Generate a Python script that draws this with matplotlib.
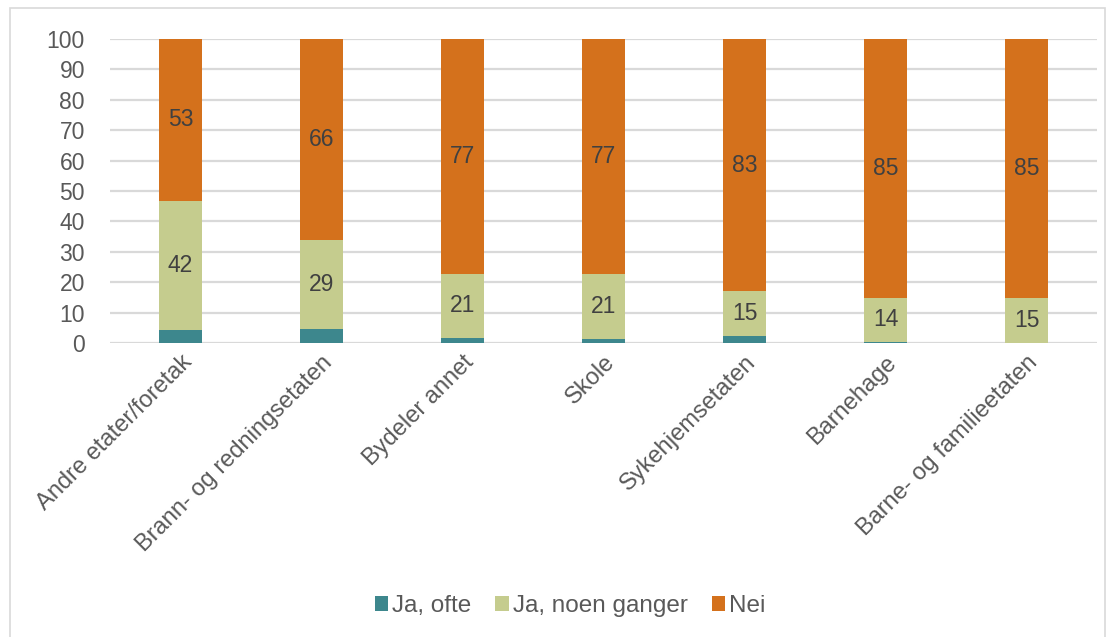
import matplotlib.pyplot as plt
import numpy as np
from matplotlib.patches import Rectangle

categories = ["Andre etater/foretak", "Brann- og redningsetaten", "Bydeler annet",
              "Skole", "Sykehjemsetaten", "Barnehage", "Barne- og familieetaten"]
ja_ofte = [4.4, 4.6, 1.8, 1.3, 2.4, 0.4, 0.1]
ja_noen = [42.4, 29.4, 21.0, 21.3, 14.7, 14.4, 14.7]
nei = [53.2, 66.0, 77.2, 77.4, 82.9, 85.2, 85.2]
series_names = ["Ja, ofte", "Ja, noen ganger", "Nei"]
colors = ["#3D878D", "#C5CC8E", "#D4711C"]

plt.rcParams["font.family"] = ["Liberation Sans", "DejaVu Sans"]

fig = plt.figure(figsize=(11.11, 6.37), dpi=100)
ax = fig.add_axes([110 / 1111, 1 - 343 / 637, 987 / 1111, 304 / 637])

x = np.arange(len(categories))
width = 0.31
bottom = np.zeros(len(categories))
for vals, name, col in zip([ja_ofte, ja_noen, nei], series_names, colors):
    ax.bar(x, vals, width, bottom=bottom, color=col, label=name, zorder=3)
    if name != "Ja, ofte":
        for xi, b, v in zip(x, bottom, vals):
            ax.text(xi, b + v / 2, f"{v:.0f}", ha="center", va="center",
                    fontsize=16.5, color="#404040", zorder=4)
    bottom += np.array(vals)

ax.set_xlim(-0.5, len(categories) - 0.5)
ax.set_ylim(0, 100)
ax.set_yticks(range(0, 101, 10))
ax.yaxis.grid(True, color="#D9D9D9", linewidth=1.6, zorder=0)
ax.set_axisbelow(True)
for s in ax.spines.values():
    s.set_visible(False)
ax.tick_params(axis="y", length=0, labelsize=16.5, labelcolor="#595959", pad=18)
ax.tick_params(axis="x", length=0, labelsize=17, labelcolor="#595959", pad=6)
ax.set_xticks(x)
ax.set_xticklabels(categories, rotation=45, ha="right", rotation_mode="anchor")

fig.legend(loc="center", bbox_to_anchor=(570 / 1111, 1 - 606 / 637), ncol=3, frameon=False,
           fontsize=17.5, handlelength=0.55, handleheight=0.55, handletextpad=0.15,
           columnspacing=1.0, labelcolor="#595959")

fig.patches.append(Rectangle((10 / 1111, -0.01), 1095 / 1111, 1 - 8 / 637 + 0.01,
                             transform=fig.transFigure, fill=False,
                             edgecolor="#D9D9D9", linewidth=1.2))

fig.savefig("out.png", dpi=100)
